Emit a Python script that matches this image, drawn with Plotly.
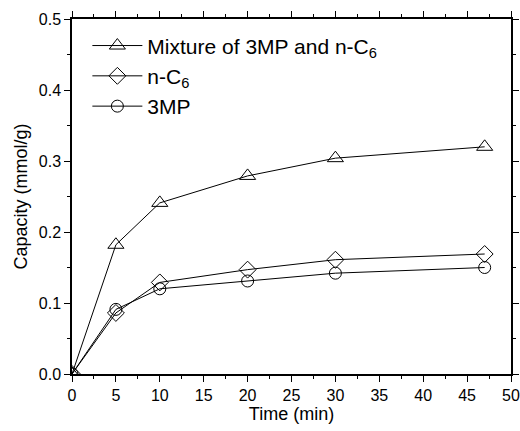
import plotly.graph_objects as go

time_min = [0, 5, 10, 20, 30, 47]
mixture = [0.0, 0.182, 0.241, 0.279, 0.304, 0.320]
n_c6 = [0.0, 0.086, 0.129, 0.147, 0.161, 0.169]
mp3 = [0.0, 0.091, 0.120, 0.131, 0.142, 0.150]

names = ["Mixture of 3MP and n-C<sub>6</sub>", "n-C<sub>6</sub>", "3MP"]
symbols = ["triangle-up-open", "diamond-open", "circle-open"]
sizes = [14, 13, 12]
series = [mixture, n_c6, mp3]

fig = go.Figure()
for nm, sym, sz, ys in zip(names, symbols, sizes, series):
    fig.add_trace(go.Scatter(
        x=time_min, y=ys, name=nm, mode="lines+markers",
        line=dict(color="black", width=1),
        marker=dict(symbol=sym, size=sz, color="black", line=dict(width=1, color="black")),
    ))

axis_common = dict(
    showline=True, linecolor="black", linewidth=1.5, mirror="allticks",
    ticks="outside", ticklen=6, tickwidth=1.2, tickcolor="black",
    showgrid=False, zeroline=False, automargin=False,
    tickfont=dict(family="Liberation Sans, Arial", size=16, color="black"),
)

fig.update_layout(
    width=520, height=431,
    margin=dict(l=72, r=9, t=19, b=57),
    plot_bgcolor="white", paper_bgcolor="white",
    font=dict(family="Liberation Sans, Arial", color="black"),
    xaxis=dict(range=[0, 50], dtick=5,
               minor=dict(dtick=2.5, ticks="outside", ticklen=3, tickcolor="black"),
               title=dict(text="Time (min)", font=dict(size=18), standoff=4),
               **axis_common),
    yaxis=dict(range=[0, 0.5], dtick=0.1, tickformat=".1f",
               minor=dict(dtick=0.05, ticks="outside", ticklen=3, tickcolor="black"),
               title=dict(text="Capacity (mmol/g)", font=dict(size=18), standoff=6),
               **axis_common),
    legend=dict(x=0.035, y=0.982, xanchor="left", yanchor="top",
                font=dict(size=21), bgcolor="rgba(0,0,0,0)",
                tracegroupgap=0, itemwidth=50),
    showlegend=True,
)

fig.write_html(
    "out.html",
    config={"displayModeBar": False},
    post_script="document.body.style.margin='0px';document.body.style.overflow='hidden';",
)
